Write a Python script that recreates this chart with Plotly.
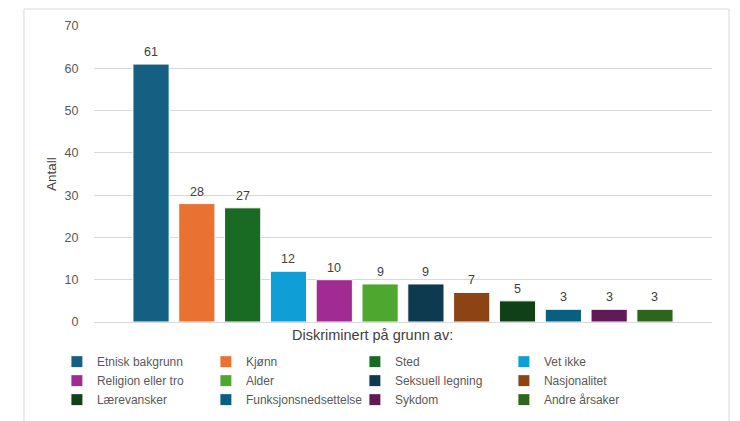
import plotly.graph_objects as go

# Reasons for discrimination and the number of responses for each
categories = [
    "Etnisk bakgrunn", "Kjønn", "Sted", "Vet ikke",
    "Religion eller tro", "Alder", "Seksuell legning", "Nasjonalitet",
    "Lærevansker", "Funksjonsnedsettelse", "Sykdom", "Andre årsaker",
]
counts = [61, 28, 27, 12, 10, 9, 9, 7, 5, 3, 3, 3]
colors = [
    "#156082", "#E97132", "#196B24", "#0F9ED5", "#A02B93", "#4EA72E",
    "#0D3A4E", "#8C4414", "#0F4016", "#095F80", "#601A58", "#2F641C",
]
y_ticks = [0, 10, 20, 30, 40, 50, 60, 70]

FONT = "Liberation Sans, Arial, sans-serif"
GREY_TEXT = "#595959"

fig = go.Figure()
for i, (cat, val, col) in enumerate(zip(categories, counts, colors)):
    fig.add_trace(go.Bar(
        x=[i], y=[val], name=cat,
        marker=dict(color=col, line=dict(color="white", width=1)),
        width=0.79,
    ))

# value labels above each bar
value_labels = [
    dict(x=i, y=val, text=str(val), xref="x", yref="y",
         xanchor="center", yanchor="bottom", yshift=3, showarrow=False,
         font=dict(size=12.5, color="#404040", family=FONT))
    for i, val in enumerate(counts)
]

fig.update_layout(
    width=740, height=421,
    margin=dict(l=94, r=28, t=26, b=99, autoexpand=False),
    paper_bgcolor="white", plot_bgcolor="white",
    barmode="overlay",
    font=dict(family=FONT, color=GREY_TEXT),
    showlegend=True,
    legend=dict(
        orientation="h", x=-0.06, y=-0.085, xanchor="left", yanchor="top",
        entrywidth=104, entrywidthmode="pixels",
        font=dict(size=12, color=GREY_TEXT, family=FONT),
        itemwidth=30, traceorder="normal",
    ),
    xaxis=dict(
        range=[-1.245, 12.245], showticklabels=False, showgrid=False,
        zeroline=False, showline=False, fixedrange=True,
    ),
    yaxis=dict(
        range=[0, 70], tickvals=y_ticks, showgrid=True, gridcolor="#D9D9D9",
        gridwidth=1, zeroline=True, zerolinecolor="#D9D9D9", zerolinewidth=1,
        tickfont=dict(size=12.5, color=GREY_TEXT),
        ticks="outside", ticklen=12, tickcolor="rgba(0,0,0,0)",
        title=dict(text="Antall", font=dict(size=13.5, color="#404040"), standoff=4),
    ),
    annotations=value_labels + [dict(
        text="Diskriminert på grunn av:", xref="paper", yref="paper",
        x=0.45, y=-0.01, xanchor="center", yanchor="top", showarrow=False,
        font=dict(size=14.5, color="#404040", family=FONT),
    )],
    shapes=[dict(
        type="rect", xref="paper", yref="paper",
        x0=-0.1133, x1=1.0275, y0=-0.36, y1=1.0574,
        line=dict(color="#D9D9D9", width=1), fillcolor="rgba(0,0,0,0)",
        layer="below",
    )],
)

fig.write_html("out.html")
